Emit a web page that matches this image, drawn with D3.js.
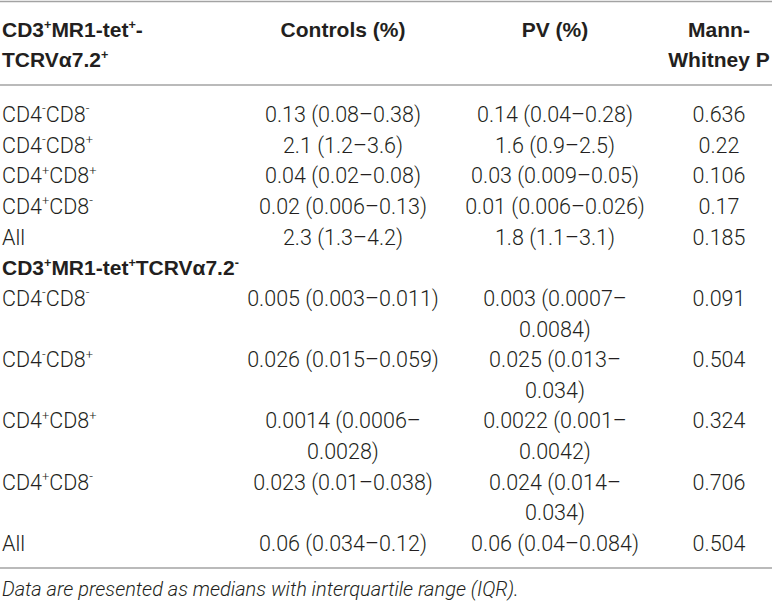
<!DOCTYPE html>
<html>
<head>
<meta charset="utf-8">
<script src="https://cdn.jsdelivr.net/npm/d3@7"></script>
<style>
  html, body { margin: 0; padding: 0; background: #fff; }
  #table { width: 772px; height: 603px; }
</style>
</head>
<body>
<div id="table"></div>
<script>
// ====== data ======
// "^x" means: x is written as superscript
const columns = ["Controls (%)", "PV (%)", "Mann-Whitney P"];
const headLabel = ["CD3^+MR1-tet^+-", "TCRVα7.2^+"];

const section1Rows  = ["CD4^-CD8^-", "CD4^-CD8^+", "CD4^+CD8^+", "CD4^+CD8^-", "All"];
const section1Ctrl  = ["0.13 (0.08–0.38)", "2.1 (1.2–3.6)", "0.04 (0.02–0.08)", "0.02 (0.006–0.13)", "2.3 (1.3–4.2)"];
const section1PV    = ["0.14 (0.04–0.28)", "1.6 (0.9–2.5)", "0.03 (0.009–0.05)", "0.01 (0.006–0.026)", "1.8 (1.1–3.1)"];
const section1P     = ["0.636", "0.22", "0.106", "0.17", "0.185"];

const section2Title = "CD3^+MR1-tet^+TCRVα7.2^-";
const section2Rows  = ["CD4^-CD8^-", "CD4^-CD8^+", "CD4^+CD8^+", "CD4^+CD8^-", "All"];
const section2Ctrl  = ["0.005 (0.003–0.011)", "0.026 (0.015–0.059)", "0.0014 (0.0006–0.0028)", "0.023 (0.01–0.038)", "0.06 (0.034–0.12)"];
const section2PV    = ["0.003 (0.0007–0.0084)", "0.025 (0.013–0.034)", "0.0022 (0.001–0.0042)", "0.024 (0.014–0.034)", "0.06 (0.04–0.084)"];
const section2P     = ["0.091", "0.504", "0.324", "0.706", "0.504"];

const footnote = "Data are presented as medians with interquartile range (IQR).";

// ====== table ======
class StatTable {
  constructor(id) {
    this.id = id;
    this.initSVG();
    this.initScales();
    this.drawRules();
    this.drawHeader();
    this.drawBody();
    this.drawFootnote();
  }

  initSVG() {
    const div = d3.select(`#${this.id}`);
    this.width  = div.node().getBoundingClientRect().width;
    this.height = div.node().getBoundingClientRect().height;
    this.left = 2;
    this.ink = "#231f20";
    this.rule = "#a3a3a3";
    this.font = "Roboto, 'Liberation Sans', sans-serif";
    this.bold = "'Liberation Sans', Arial, sans-serif";
    this.size = 21.5;   // body text
    this.headSize = 21; // bold header text

    this.svg = div.append("svg")
      .attr("width", this.width)
      .attr("height", this.height);
  }

  initScales() {
    // column centres for the three value columns
    this.x = d3.scaleOrdinal()
      .domain(columns)
      .range([343, 555, 719]);
    // widest text a column holds on one line
    this.maxW = d3.scaleOrdinal()
      .domain(columns)
      .range([212, 186, 120]);
    // body text lines -> baseline
    this.y = d3.scaleLinear()
      .domain([0, 14])
      .range([122, 551]);
    this.headY = d3.scaleLinear()
      .domain([0, 1])
      .range([37, 67]);
  }

  // write "CD4^-CD8^+" style strings with raised signs
  rich(sel, str, size) {
    const parts = str.split(/(\^.)/).filter(s => s.length);
    let raised = false;
    parts.forEach(p => {
      if (p[0] === "^") {
        sel.append("tspan")
          .attr("dy", raised ? 0 : -size * 0.4)
          .style("font-size", `${size * 0.6}px`)
          .text(p[1]);
        raised = true;
      } else {
        sel.append("tspan")
          .attr("dy", raised ? size * 0.4 : 0)
          .text(p);
        raised = false;
      }
    });
  }

  drawRules() {
    const lines = [1.5, 85, 568];
    this.svg.selectAll("line.rule")
      .data(lines)
      .join("line")
      .attr("class", "rule")
      .attr("x1", 0).attr("x2", this.width)
      .attr("y1", d => d).attr("y2", d => d)
      .attr("stroke", this.rule)
      .attr("stroke-width", 1.5);
  }

  drawHeader() {
    const g = this.svg.append("g")
      .style("font-family", this.bold)
      .style("font-weight", "bold")
      .style("font-size", `${this.headSize}px`)
      .attr("fill", this.ink);

    headLabel.forEach((h, i) => {
      const t = g.append("text")
        .attr("x", this.left)
        .attr("y", this.headY(i));
      this.rich(t, h, this.headSize);
    });

    const headLines = [["Controls (%)"], ["PV (%)"], ["Mann-", "Whitney P"]];
    columns.forEach((c, ci) => {
      headLines[ci].forEach((txt, li) => {
        g.append("text")
          .attr("x", this.x(c))
          .attr("y", this.headY(li))
          .attr("text-anchor", "middle")
          .text(txt);
      });
    });
  }

  // centred cell text, broken after the dash if it is too wide
  cell(g, col, str, line) {
    const t = g.append("text")
      .attr("x", this.x(col))
      .attr("y", this.y(line))
      .attr("text-anchor", "middle")
      .text(str);
    const cut = str.indexOf("–");
    if (t.node().getComputedTextLength() > this.maxW(col) && cut > 0) {
      t.text(null);
      t.append("tspan").attr("x", this.x(col)).text(str.slice(0, cut + 1));
      t.append("tspan").attr("x", this.x(col)).attr("dy", this.y(1) - this.y(0))
        .text(str.slice(cut + 1));
      return 2;
    }
    return 1;
  }

  drawBody() {
    const g = this.svg.append("g")
      .style("font-family", this.font)
      .style("font-weight", 300)
      .style("font-size", `${this.size}px`)
      .attr("fill", this.ink);

    let line = 0;
    const section = (rows, ctrl, pv, p) => {
      rows.forEach((r, i) => {
        const lab = g.append("text")
          .attr("x", this.left)
          .attr("y", this.y(line));
        this.rich(lab, r, this.size);
        const n = Math.max(
          this.cell(g, columns[0], ctrl[i], line),
          this.cell(g, columns[1], pv[i], line),
          this.cell(g, columns[2], p[i], line)
        );
        line += n;
      });
    };

    section(section1Rows, section1Ctrl, section1PV, section1P);

    const title = this.svg.append("text")
      .attr("x", this.left)
      .attr("y", this.y(line))
      .style("font-family", this.bold)
      .style("font-weight", "bold")
      .style("font-size", `${this.headSize}px`)
      .attr("fill", this.ink);
    this.rich(title, section2Title, this.headSize);
    line += 1;

    section(section2Rows, section2Ctrl, section2PV, section2P);
  }

  drawFootnote() {
    this.svg.append("text")
      .attr("x", this.left)
      .attr("y", 596)
      .style("font-family", this.font)
      .style("font-weight", 300)
      .style("font-style", "italic")
      .style("font-size", "20px")
      .attr("fill", this.ink)
      .text(footnote);
  }
}

new StatTable("table");
</script>
</body>
</html>
